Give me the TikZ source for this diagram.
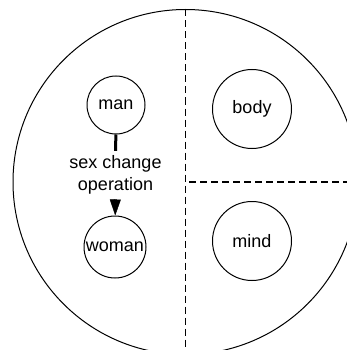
\documentclass[tikz,border=0pt]{standalone}
\usepackage{fontspec}
\setmainfont{Liberation Sans}
\usetikzlibrary{arrows.meta}
\begin{document}
\begin{tikzpicture}[x=1pt,y=-1pt,
  every node/.style={font=\fontsize{18}{22}\selectfont},
  ring/.style={circle,draw,line width=1pt,inner sep=0pt},
  divider/.style={line width=1.1pt,dash pattern=on 7pt off 4pt}]
\useasboundingbox (0,0) rectangle (347,350);
\clip (0,0) rectangle (347,350);
\fill[white] (0,0) rectangle (347,350);
\draw[line width=1pt] (185.5,182) circle[radius=172.5pt];
\coordinate (vtop) at (185.5,9.5);
\coordinate (vbot) at (185.5,352);
\coordinate (hleft) at (189,182);
\coordinate (hright) at (349,182);
\draw[divider] (vtop) -- (vbot);
\draw[divider] (hleft) -- (hright);
\node[ring,minimum size=58pt] (man) at (116,105) {man};
\node[ring,minimum size=62pt] (woman) at (115,247) {woman};
\node[ring,minimum size=79pt] (body) at (252,109) {body};
\node[ring,minimum size=79pt] (mind) at (252,241) {mind};
\draw[line width=3pt,-{Triangle[width=11pt,length=16pt,line width=0.5pt]}]
  (man) -- (woman)
  node[midway,fill=white,align=center,inner xsep=2pt,inner ysep=5pt] (op) {sex change\\operation};
\end{tikzpicture}
\end{document}
